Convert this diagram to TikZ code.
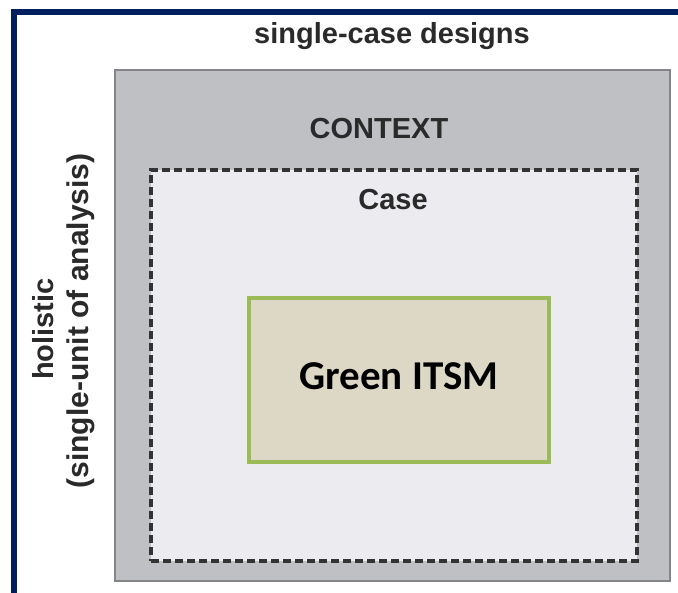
\documentclass[tikz,border=0pt]{standalone}
\usepackage{fontspec}
\setmainfont{Liberation Sans}
\newfontfamily\calibri{Carlito}
\usetikzlibrary{positioning}
\definecolor{frameblue}{HTML}{001F5F}
\definecolor{ctxfill}{HTML}{BFC0C3}
\definecolor{ctxline}{HTML}{858587}
\definecolor{casefill}{HTML}{ECECF0}
\definecolor{caseline}{HTML}{333333}
\definecolor{itsmfill}{HTML}{DDD8C5}
\definecolor{itsmline}{HTML}{9BBB59}
\definecolor{labeltext}{HTML}{2A2A2A}
\tikzstyle{context} = [draw=ctxline, fill=ctxfill, line width=2.5pt,
    rectangle, inner sep=0pt, minimum width=555pt, minimum height=511pt]
\tikzstyle{casebox} = [draw=caseline, fill=casefill, line width=3.2pt,
    dash pattern=on 8pt off 4pt, rectangle, inner sep=0pt,
    minimum width=486pt, minimum height=391pt]
\tikzstyle{itsm} = [draw=itsmline, fill=itsmfill, line width=4pt,
    rectangle, inner sep=0pt, minimum width=300pt, minimum height=164pt]
\tikzstyle{title} = [anchor=base, inner sep=0pt, text=labeltext,
    font=\bfseries\fontsize{29}{32}\selectfont]

\begin{document}
\begin{tikzpicture}[x=1pt, y=-1pt]
	  \useasboundingbox [fill=white] (0,0) rectangle (678,593);
	  % frame
	  \coordinate (ftop) at (678,12);
	  \coordinate (fcorner) at (14,12);
	  \coordinate (fbottom) at (14,593);
	  \draw [frameblue, line width=6pt] (ftop) -- (fcorner) -- (fbottom);
	  % nested boxes
	  \node [context] (context) at (392.5,325.5) {};
	  \node [casebox] (case) at (394,365.5) {};
	  \node [itsm] (green) at (399,380) {};
	  % labels
	  \node [title] (designs) at (392,44) {single-case designs};
	  \node [title] (ctxlabel) at (379,139) {CONTEXT};
	  \node [title] (caselabel) at (393,210) {Case};
	  \node [anchor=base, inner sep=0pt, font=\calibri\bfseries\fontsize{41}{44}\selectfont] (itsmlabel) at (399,390) {Green ITSM};
	  \node [title, rotate=90] (holistic) at (53,329) {holistic};
	  \node [title, font=\bfseries\fontsize{30}{33}\selectfont, rotate=90] (unit) at (88,321) {(single-unit of analysis)};
	\end{tikzpicture}
\end{document}
